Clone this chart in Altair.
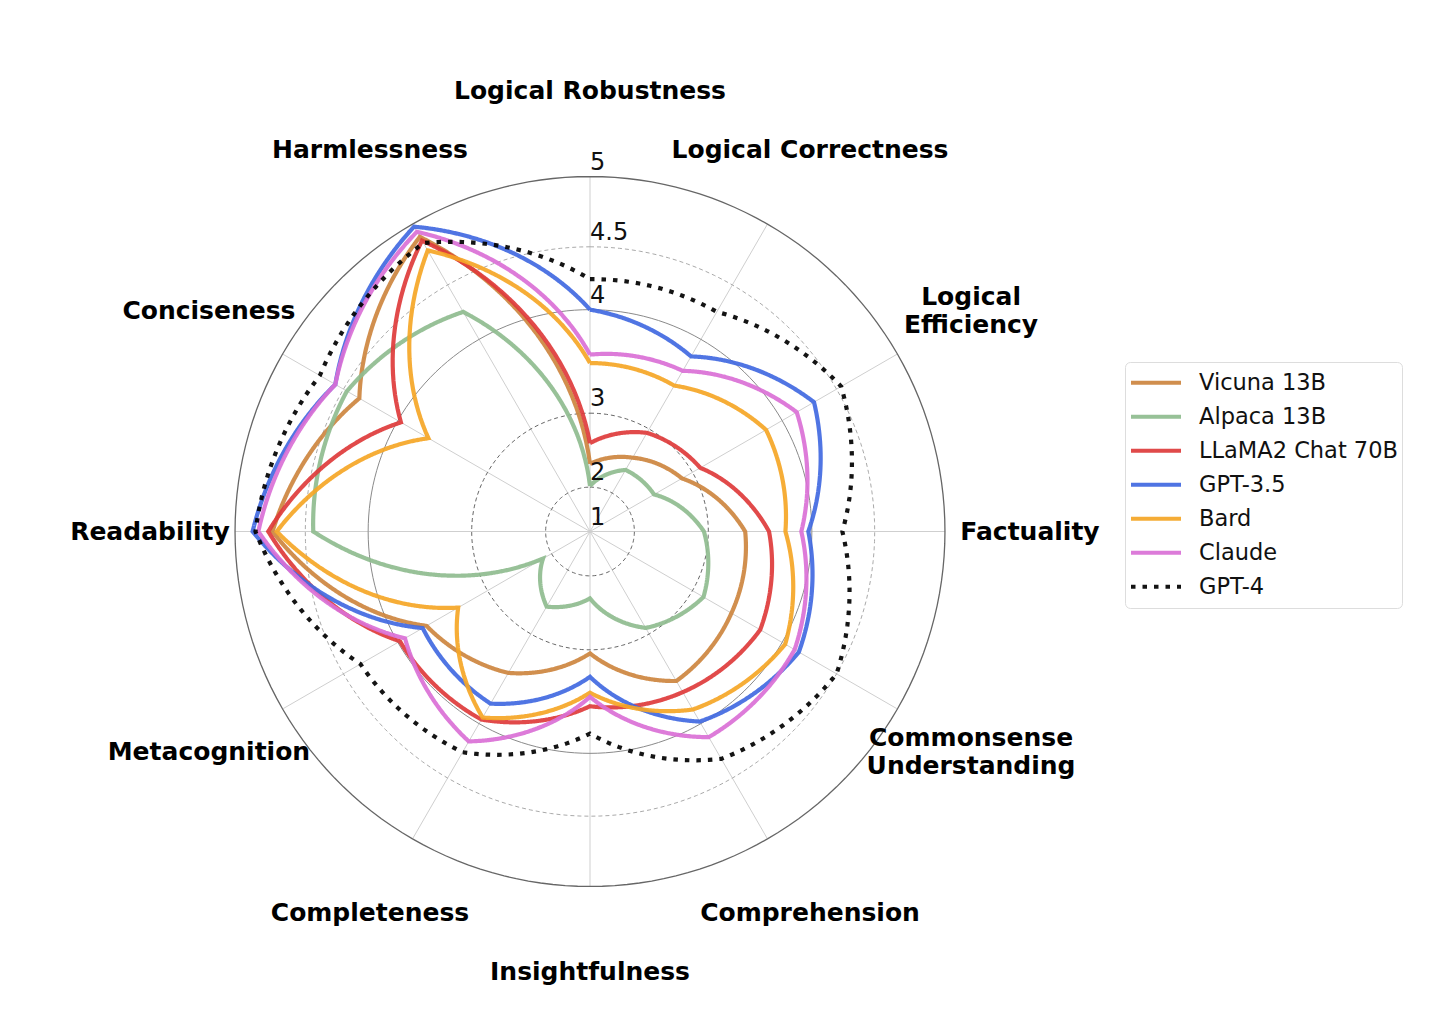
import altair as alt
import pandas as pd

# ---------------- data ----------------
axes = ["Logical Robustness", "Logical Correctness", "Logical\nEfficiency", "Factuality",
        "Commonsense\nUnderstanding", "Comprehension", "Insightfulness", "Completeness",
        "Metacognition", "Readability", "Conciseness", "Harmlessness"]

models = ["Vicuna 13B", "Alpaca 13B", "LLaMA2 Chat 70B", "GPT-3.5", "Bard", "Claude", "GPT-4"]

vicuna = [2.36, 2.60, 2.86, 3.39, 3.47, 3.56, 3.04, 3.47, 3.71, 4.74, 4.36, 4.90]
alpaca = [2.02, 2.41, 2.45, 2.95, 3.14, 2.92, 2.35, 2.62, 2.16, 4.44, 4.47, 4.26]
llama2 = [2.64, 2.95, 3.10, 3.62, 3.78, 3.68, 3.58, 3.96, 3.98, 4.77, 3.97, 4.87]
gpt35 = [4.00, 3.83, 4.30, 3.97, 4.16, 3.98, 3.29, 3.80, 3.75, 4.88, 4.57, 4.98]
bard = [3.52, 3.52, 3.84, 3.77, 4.03, 3.86, 3.45, 3.94, 3.36, 4.71, 3.69, 4.79]
claude = [3.60, 3.68, 4.14, 3.91, 4.12, 4.13, 3.49, 4.17, 3.93, 4.84, 4.57, 4.94]
gpt4 = [4.25, 4.26, 4.54, 4.25, 4.50, 4.33, 3.83, 4.27, 4.35, 4.86, 4.70, 4.85]

radial_ticks = [1, 2, 3, 4, 4.5, 5]

colors = ["#cd853f", "#8fbc8f", "#de3b3b", "#4169e1", "#f5a626", "#da70d6", "#000000"]
dashes = [[1, 0], [1, 0], [1, 0], [1, 0], [1, 0], [1, 0], [4.5, 7]]

# ---------------- tables built from the arrays ----------------
series = [vicuna, alpaca, llama2, gpt35, bard, claude, gpt4]
rows = []
for m, vals in zip(models, series):
    n = len(vals)
    for k, v in enumerate(vals):
        rows.append({"model": m, "k": k, "v": v, "vnext": vals[(k + 1) % n]})
lines_df = pd.DataFrame(rows)
axes_df = pd.DataFrame({"axis": axes, "k": list(range(len(axes)))})
ticks_df = pd.DataFrame({"tick": radial_ticks})

# ---------------- layout ----------------
N = len(axes)
RMIN = radial_ticks[0] ** 2          # radial coordinate is value squared
RMAX = radial_ticks[-1] ** 2 - RMIN
PX = 14.79                            # pixels per radial unit
W, H = 1087, 987
CX, CY = 577, 518.5                   # centre of the polar area inside the plot
LABEL_R = 29.75
STEPS = 24

xs = alt.Scale(domain=[-CX / PX, (W - CX) / PX], nice=False, zero=False)
ys = alt.Scale(domain=[-(H - CY) / PX, CY / PX], nice=False, zero=False)
X = alt.X("x:Q", scale=xs, axis=None)
Y = alt.Y("y:Q", scale=ys, axis=None)


def circles(vals, **kw):
    return alt.Chart(pd.DataFrame({"tick": vals})).transform_calculate(
        a="sequence(0, 181)"
    ).transform_flatten(["a"]).transform_calculate(
        theta="datum.a * 2 * PI / 180",
        R=f"pow(datum.tick, 2) - {RMIN}",
        x="datum.R * sin(datum.theta)",
        y="datum.R * cos(datum.theta)",
    ).mark_line(**kw).encode(x=X, y=Y, detail="tick:N", order="a:Q")


spokes = alt.Chart(axes_df).transform_calculate(
    theta=f"datum.k * 2 * PI / {N}",
    x="0", y="0",
    x1=f"{RMAX} * sin(datum.theta)",
    y1=f"{RMAX} * cos(datum.theta)",
).mark_rule(color="#cfcfcf", strokeWidth=1).encode(x=X, y=Y, x2="x1:Q", y2="y1:Q")

grid_dark = circles(radial_ticks[1:3], color="#555555", strokeWidth=0.9, strokeDash=[4, 3])
grid_mid = circles(radial_ticks[3:4], color="#8a8a8a", strokeWidth=1)
grid_light = circles(radial_ticks[4:5], color="#aaaaaa", strokeWidth=1, strokeDash=[4, 3])
grid_outer = circles(radial_ticks[5:6], color="#666666", strokeWidth=1.3)

tick_labels = alt.Chart(ticks_df).transform_calculate(
    x="0",
    y=f"pow(datum.tick, 2) - {RMIN}",
).mark_text(font="DejaVu Sans", fontSize=24, align="left", baseline="bottom",
            dx=0, dy=-2, color="#111111").encode(x=X, y=Y, text="tick:N")

lines = alt.Chart(lines_df).transform_calculate(
    tarr=f"sequence(0, {STEPS + 1})"
).transform_flatten(["tarr"]).transform_calculate(
    t=f"datum.tarr / {STEPS}",
    ord="datum.k + datum.t",
    theta=f"(datum.k + datum.t) * 2 * PI / {N}",
    R=f"pow(datum.v, 2) + datum.t * (pow(datum.vnext, 2) - pow(datum.v, 2)) - {RMIN}",
    x="datum.R * sin(datum.theta)",
    y="datum.R * cos(datum.theta)",
).mark_line(strokeWidth=4.2, opacity=0.92).encode(
    x=X, y=Y,
    order=alt.Order("ord:Q"),
    color=alt.Color(
        "model:N",
        scale=alt.Scale(domain=models, range=colors),
        legend=alt.Legend(
            title=None, orient="none", legendX=1112, legendY=349,
            symbolType="stroke", symbolSize=2500, symbolStrokeWidth=4,
            clipHeight=33.3, rowPadding=0, labelFontSize=22.5,
            labelFont="DejaVu Sans", labelColor="#111111", labelOffset=16,
            labelLimit=400, padding=4, strokeColor="#dddddd", fillColor="white",
            cornerRadius=5,
        ),
    ),
    strokeDash=alt.StrokeDash(
        "model:N", scale=alt.Scale(domain=models, range=dashes), legend=alt.Legend(title=None)
    ),
)

label_base = alt.Chart(axes_df).transform_calculate(
    theta=f"datum.k * 2 * PI / {N}",
    x=f"{LABEL_R} * sin(datum.theta)",
    y=f"{LABEL_R} * cos(datum.theta)",
)
label_style = dict(font="DejaVu Sans", fontWeight="bold", fontSize=25, lineBreak="\n",
                   lineHeight=28, align="center", baseline="middle", color="#000000")
labels_single = label_base.transform_filter(
    "indexof(datum.axis, '\\n') < 0"
).mark_text(**label_style).encode(x=X, y=Y, text="axis:N")
labels_multi = label_base.transform_filter(
    "indexof(datum.axis, '\\n') >= 0"
).mark_text(dy=-14, **label_style).encode(x=X, y=Y, text="axis:N")

chart = alt.layer(
    spokes, grid_dark, grid_mid, grid_light, grid_outer, lines, tick_labels,
    labels_single, labels_multi
).properties(width=W, height=H, padding=5, background="white").configure_view(strokeWidth=0)

chart.save("out.html", embed_options={"renderer": "svg", "actions": False})
